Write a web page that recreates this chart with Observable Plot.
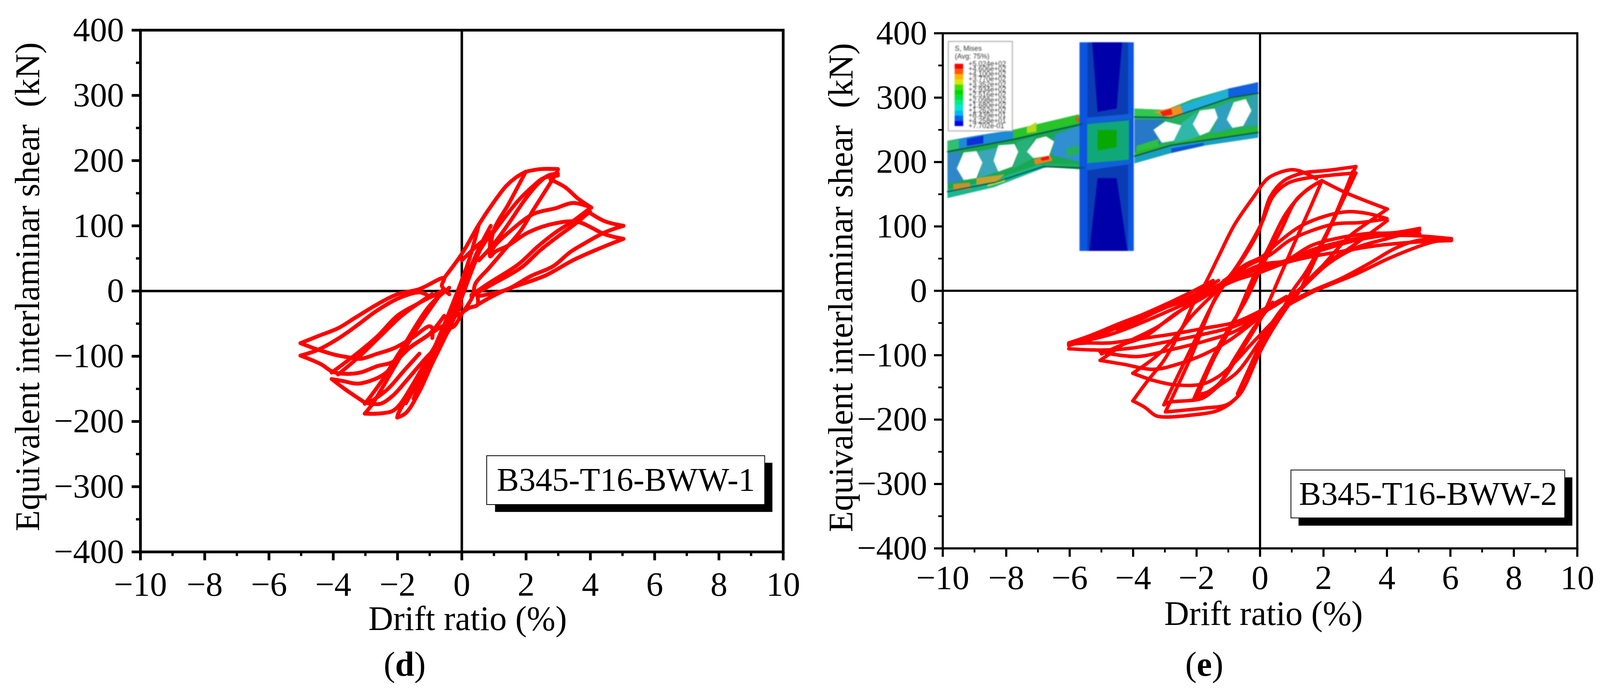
<!DOCTYPE html>
<html><head><meta charset="utf-8">
<script src="https://cdn.jsdelivr.net/npm/d3@7"></script>
<script src="https://cdn.jsdelivr.net/npm/@observablehq/plot@0.6"></script>
<style>
html,body{margin:0;padding:0;background:#fff;width:100%;height:1768px;overflow:hidden}
#page{position:relative;width:4096px;height:1768px;font-family:"Liberation Serif",serif}
#page svg{position:absolute;top:0;overflow:visible}
.cap{position:absolute;font-size:88px;line-height:88px;transform:translateX(-50%);color:#000}
</style></head><body><div id="page"></div>
<script>
const xTicks=[-10,-8,-6,-4,-2,0,2,4,6,8,10];
const xMinor=[-9,-7,-5,-3,-1,1,3,5,7,9];
const yTicks=[-400,-300,-200,-100,0,100,200,300,400];
const yMinor=[-350,-250,-150,-50,50,150,250,350];
const xTitle="Drift ratio (%)";
const yTitle="Equivalent interlaminar shear\u00a0 (kN)";

// Panel (d): B345-T16-BWW-1 hysteresis branches, drift %, shear kN
const d01={x:[-.55,0,.53,.99,1.38,1.68,1.99],y:[20,57,102,136,161,174,183]};
const d02={x:[1.99,2.45,2.99],y:[183,187,187]};
const d03={x:[2.99,2.92,2.22,1.84,1.38,.84,.42,.34,0,-.24,-.39],y:[186,179,124,93,66,35,11,-8,-35,-54,-57]};
const d04={x:[.53,.99,1.45,1.99,2.38,2.68,2.99],y:[47,72,103,142,165,177,180]};
const d05={x:[.99,1.76,2.22,2.53,2.99],y:[90,139,161,173,177]};
const d06={x:[1.99,1.45,.99,.88],y:[183,133,93,53]};
const d07={x:[2.76,3.22,3.61,4.03],y:[171,159,142,128]};
const d08={x:[.3,.84,1.76,2.38,2.92,3.45,3.99],y:[-6,12,41,69,90,107,127]};
const d09={x:[.3,.9,1.85,2.45,3,3.5,3.99],y:[-8,9,36,63,84,102,122]};
const d10={x:[4.03,3.45,2.92,2.22,1.53,.99,.88,.9],y:[128,135,127,118,93,67,54,90]};
const d11={x:[3.92,4.45,5.03],y:[122,107,100]};
const d12={x:[.49,1.38,2.15,2.84,3.38,3.92,4.45,5.03],y:[-8,2,23,38,60,76,90,100]};
const d13={x:[.49,.84,1.38,2.61,3.45,4.22,5.03],y:[-21,-11,2,24,47,64,80]};
const d14={x:[5.03,4.45,3.61,2.92,2.07,1.45,1.03,.92],y:[80,87,106,104,90,70,60,54]};
const d15={x:[-5.02,-4.47,-3.85,-3.32,-2.62,-2.01,-1.32,-.55,-.62,-.39],y:[-80,-69,-57,-41,-20,-5,3,20,8,-5]};
const d16={x:[-5.02,-4.47,-3.85,-3.24,-2.7,-2.01,-1.32,-.93,-.55],y:[-99,-90,-73,-52,-32,-12,-2,-8,2]};
const d17={x:[-5.02,-4.47,-3.93,-3.47,-3.16,-2.62,-2.08,-1.55,-1.01,-.92,-.92],y:[-80,-90,-98,-102,-104,-96,-87,-72,-54,-57,-72]};
const d18={x:[-5.02,-4.39,-4.01,-3.62,-3.16,-2.62,-2.16,-1.62,-.93,-.62],y:[-99,-112,-124,-127,-125,-115,-109,-87,-64,-54]};
const d19={x:[-4.05,-3.7,-3.24,-2.7,-2.35,-2.01,-1.55,-1.01,-.55],y:[-135,-138,-142,-135,-125,-106,-84,-66,-38]};
const d20={x:[-4.05,-3.62,-3.02],y:[-135,-151,-171]};
const d21={x:[-4.05,-3.32,-2.62,-2.01,-1.39,-.93,-.55],y:[-125,-98,-69,-38,-20,-8,2]};
const d22={x:[-3.85,-3.16,-2.47,-1.85,-.93],y:[-128,-99,-66,-37,-5]};
const d23={x:[-3.02,-2.55,-2.16,-1.7,-1.16,-.7,-.32],y:[-171,-173,-161,-136,-105,-81,-54]};
const d24={x:[-2.85,-2.32,-1.78,-1.32],y:[-170,-151,-121,-96]};
const d25={x:[-3.02,-2.62,-2.16,-1.93,-1.55,-1.01,-.55,-.24,-.01],y:[-188,-188,-184,-174,-145,-99,-60,-23,-5]};
const d26={x:[-3.02,-2.78,-2.08,-1.39,-.62],y:[-188,-173,-115,-57,-2]};
const d27={x:[-3.02,-2.55,-1.85,-1.01,-.39],y:[-173,-142,-87,-23,5]};
const d28={x:[-2.01,-1.74,-1.32,-.93,-.62,-.2,-.01],y:[-194,-187,-154,-112,-81,-38,-20]};
const d29={x:[-2.01,-1.97,-1.62,-1.16,-.7,-.24,.22,.53],y:[-194,-187,-157,-121,-69,-14,47,102]};
const d30={x:[-1.93,-1.47,-1.01,-.55,-.08,.38,.92],y:[-176,-142,-102,-54,-2,47,90]};
const d31={x:[-.12,.22,.49,.45],y:[-38,-26,-21,0]};
const d32={x:[0,.53,.99],y:[47,72,90]};
const d33={x:[-1.74,-1.2,-.7,-.3,.1,.5,.9],y:[-172,-125,-80,-35,15,62,100]};
const d34={x:[-1.5,-1,-.5,-.1,.3,.7],y:[-165,-112,-65,-22,30,80]};
const dLoops=[d01,d02,d03,d04,d05,d06,d07,d08,d09,d10,d11,d12,d13,d14,d15,d16,d17,d18,d19,d20,d21,d22,d23,d24,d25,d26,d27,d28,d29,d30,d31,d32,d33,d34];

// Panel (e): B345-T16-BWW-2 hysteresis branches, drift %, shear kN
const e01={x:[-4.01,-3.53,-3.03,-2.43,-2.08,-1.74,-1.31,-.8,-.2,.23,.57,1,1.26,1.78],y:[-171,-139,-108,-55,-18,10,53,103,146,174,183,188,186,174]};
const e02={x:[-3.03,-2.17,-1.4,-.54,.06,.4,.83,1.35,2.12,3.02],y:[-177,-89,-12,53,106,146,166,174,179,183]};
const e03={x:[-2.98,-2.17,-1.31,-.54,-.03,.32,.75,1.35,2.12,3.02],y:[-188,-102,-2,50,94,146,171,183,187,193]};
const e04={x:[3.02,2.55,2.03,1.43,1,.66,.15,-.45,-.71],y:[183,134,81,28,-2,-34,-70,-132,-160]};
const e05={x:[3.02,2.93,2.38,1.78,1.26,.83,.06,-.45,-.63,-1.05,-1.74,-2.98],y:[193,183,118,53,1,-27,-89,-145,-160,-177,-182,-188]};
const e06={x:[2.93,2.29,1.6,1.26,.66,-.03,-.71,-1.31,-1.83,-2.86,-3.03],y:[186,109,41,1,-30,-80,-126,-148,-167,-173,-177]};
const e07={x:[1.95,1.6,1.09,.57,.06,-.54,-1.31,-2],y:[171,131,75,16,-40,-89,-145,-167]};
const e08={x:[-2,-1.48,-.8,-.2,.23,.83,1.43,1.95],y:[-167,-108,-46,22,63,121,155,171]};
const e09={x:[-2.08,-1.31,-.45,.06,.66,1.17,1.86],y:[-167,-86,-15,38,94,143,169]};
const e10={x:[1.95,2.72,4.01],y:[171,152,127]};
const e11={x:[.92,1.43,2.12,2.8,3.4,4.01],y:[-9,10,47,84,106,127]};
const e12={x:[4,3.4,2.8,2.12,1.26,.57,.06,-.45,-.97,-1.4],y:[112,120,123,117,100,75,53,41,22,4]};
const e13={x:[4,3.15,2.38,1.6,.92,.32,-.45,-.97,-1.74,-2.68,-3.63,-4.31,-5],y:[112,106,104,93,78,56,37,16,-9,-36,-71,-83,-98]};
const e14={x:[5.03,4.18,3.4,2.38,1.6,.83,.23,-.8,-1.14],y:[97,90,89,81,70,47,38,22,16]};
const e15={x:[5.03,4.09,2.98,2.12,1.26,.4,-.71,-1.4,-2.17,-3.03,-3.71,-4.49],y:[89,87,78,66,53,41,22,7,-12,-27,-43,-61]};
const e16={x:[6.03,4.69,3.4,2.46,1.6,.92,.06,-.8],y:[81,86,84,75,63,47,41,22]};
const e17={x:[6.03,4.69,3.49,2.55,1.6,.83,-.03,-.8,-1.74,-2.68,-3.71,-4.74,-6.03],y:[78,75,69,61,53,44,28,16,-6,-27,-49,-68,-83]};
const e18={x:[.92,1.78,2.98,4.18,5.38,6.03],y:[-21,1,25,53,75,81]};
const e19={x:[.92,1.69,2.55,3.49,4.26,4.95,6.03],y:[-18,1,19,44,66,78,80]};
const e20={x:[1.26,2.12,2.98,4,5.03],y:[1,41,66,81,94]};
const e21={x:[1.17,2.03,2.72,3.49,4.01],y:[-2,41,63,90,109]};
const e22={x:[-6.03,-5.43,-4.49,-3.71,-3.11,-2.17,-1.48],y:[-81,-71,-52,-37,-24,-2,16]};
const e23={x:[-6.03,-5.34,-4.4,-3.63,-3.03,-2.08,-1.31],y:[-85,-74,-55,-40,-27,-6,16]};
const e24={x:[-6.03,-5.43,-4.74,-3.89,-2.86,-1.74,-.8,.06,.83],y:[-83,-81,-81,-75,-68,-58,-49,-30,-9]};
const e25={x:[-6.03,-5,-4.06,-3.03,-1.83,-.8,-.03,.83],y:[-90,-92,-89,-80,-68,-55,-37,-12]};
const e26={x:[-5.04,-3.89,-2.86,-1.66,-.71,.06],y:[-95,-102,-92,-77,-61,-33]};
const e27={x:[-5.04,-4.31,-3.37,-2.6,-1.74,-.97,-.37,.23,.83],y:[-108,-114,-122,-114,-98,-77,-55,-30,-9]};
const e28={x:[-5.04,-4.74,-4.31,-3.2,-2.17],y:[-108,-98,-83,-55,-18]};
const e29={x:[-4.01,-3.37,-2.68,-1.83,-1.31,-.8,-.28,.15,.75],y:[-128,-139,-146,-145,-133,-111,-83,-61,-30]};
const e30={x:[-4.01,-3.28,-2.77,-2.17,-1.4],y:[-128,-102,-77,-40,-2]};
const e31={x:[-1.83,-1.4,-.8,-.2,.4],y:[-160,-151,-105,-58,-18]};
const e32={x:[-4.01,-3.63,-3.28,-2.94,-2.17,-1.4,-.97,-.63],y:[-171,-181,-194,-196,-193,-187,-176,-160]};
const eLoops=[e01,e02,e03,e04,e05,e06,e07,e08,e09,e10,e11,e12,e13,e14,e15,e16,e17,e18,e19,e20,e21,e22,e23,e24,e25,e26,e27,e28,e29,e30,e31,e32];

// Finite-element inset of panel (e), outlined in chart units
const beamL={c:"#18a850",x:[-9.85,-9.07,-7.78,-6.75,-5.72,-5.55,-5.55,-6.66,-6.84,-8.38,-9.85],y:[233,240,250,262,274,262,188,193,192,161,144]};
const beamR={c:"#20b060",x:[-3.96,-2.98,-2.12,-1,-.06,-.06,-1.69,-2.8,-3.96],y:[283,281,298,314,324,238,226,214,198]};
const webs=[
 {c:"#3aa6b8",x:[-8.94,-8.21,-8.4,-8.25,-8.89,-8.75],y:[216,223,202,185,175,199]},
 {c:"#2f86c8",x:[-9.85,-9.4,-9.56,-9.34,-9.85],y:[214,216,190,172,166]},
 {c:"#28b07a",x:[-7.69,-7.09,-7.35,-7.14,-7.78,-7.62],y:[231,240,216,206,190,216]},
 {c:"#2f8fd0",x:[-6.49,-5.59,-5.59,-6.58,-6.49],y:[242,259,199,211,232]},
 {c:"#22b060",x:[-6.1,-5.7,-5.7,-6.1],y:[222,226,212,208]},
 {c:"#2878c8",x:[-3.96,-2.98,-3.36,-3.1,-3.96],y:[266,266,250,230,211]},
 {c:"#30c040",x:[-3.9,-3.2,-3.2,-3.9],y:[225,236,222,212]},
 {c:"#2fb8a8",x:[-2.46,-1.99,-2.12,-1.9,-2.63,-2.72],y:[261,278,259,241,226,233]},
 {c:"#2f9fc0",x:[-1.43,-.87,-1.05,-.87,-1.52,-1.33],y:[284,295,266,253,245,269]},
 {c:"#2fa0b0",x:[-.4,-.06,-.06,-.53,-.27],y:[300,306,257,256,280]}];
const flanges=[
 {c:"#1c8ad8",x:[-9.85,-9.07,-7.78,-7.78,-9.85],y:[233,240,250,236,217]},
 {c:"#0a30d8",x:[-9.24,-8.72,-8.72,-9.24],y:[236,241,229,225]},
 {c:"#30c070",x:[-9.85,-9.49,-9.49,-9.85],y:[233,235,221,217]},
 {c:"#28c428",x:[-7.78,-6.75,-5.72,-5.57,-7.78],y:[250,262,274,262,236]},
 {c:"#b8d820",x:[-7.35,-7.05,-7.05,-7.35],y:[254,262,247,245]},
 {c:"#f05010",x:[-5.81,-5.59,-5.81],y:[272,262,264]},
 {c:"#18b890",x:[-9.85,-8.29,-6.92,-6.75,-8.38,-9.85],y:[157,174,197,192,161,144]},
 {c:"#c89030",x:[-9.67,-9.15,-9.11,-9.67],y:[166,168,158,156]},
 {c:"#c8a030",x:[-8.94,-8.05,-8.29,-8.94],y:[175,181,170,164]},
 {c:"#d8e030",x:[-8.59,-8.04,-8.04,-8.59],y:[166,174,170,162]},
 {c:"#f08020",x:[-7.13,-6.62,-6.54,-7.09],y:[204,211,202,196]},
 {c:"#f01010",x:[-6.92,-6.66,-6.65,-6.88],y:[206,210,204,202]},
 {c:"#20b060",x:[-6.84,-5.55,-5.55,-6.75],y:[198,196,188,193]},
 {c:"#30c850",x:[-3.96,-2.98,-2.8,-3.96],y:[283,281,269,270]},
 {c:"#f09020",x:[-3.36,-2.8,-2.5,-2.42,-2.85],y:[278,284,288,274,268]},
 {c:"#f02010",x:[-3.15,-2.8,-2.76,-3.06],y:[278,283,274,271]},
 {c:"#20b0d8",x:[-2.5,-1,-1,-2.42],y:[288,314,300,274]},
 {c:"#1060e0",x:[-1,-.06,-.06,-1],y:[314,324,307,300]},
 {c:"#28b828",x:[-3.96,-1.78,-.06,-.06,-2.8,-3.96],y:[216,240,254,246,226,209]},
 {c:"#18a0c0",x:[-3.96,-2.8,-.06,-.06,-1.69,-2.8,-3.96],y:[209,226,246,238,226,214,198]},
 {c:"#1050d8",x:[-2.8,-1.78,-1.78,-2.8],y:[221,230,226,214]}];
const holes=[
 {c:"#ffffff",x:[-9.34,-8.94,-8.75,-8.94,-9.34,-9.56],y:[215,217,199,175,172,190]},
 {c:"#ffffff",x:[-8.25,-7.74,-7.62,-7.81,-8.25,-8.4],y:[226,228,216,193,185,202]},
 {c:"#ffffff",x:[-6.75,-6.49,-6.65,-7.14,-7.35,-7.05],y:[240,232,210,206,216,236]},
 {c:"#ffffff",x:[-2.98,-2.48,-2.72,-3.1,-3.36],y:[263,257,233,230,250]},
 {c:"#ffffff",x:[-1.9,-1.43,-1.33,-1.6,-1.9,-2.12],y:[280,283,269,247,241,259]},
 {c:"#ffffff",x:[-.45,-.27,-.53,-.87,-1.05,-.83],y:[298,280,256,253,266,293]}];
const column=[
 {c:"#0b55e0",x:[-5.69,-3.98,-3.98,-5.69],y:[386,386,62,62]},
 {c:"#0a3cb4",x:[-5.44,-4.16,-4.16,-5.44],y:[386,386,62,62]},
 {c:"#0000aa",x:[-5.29,-4.35,-4.52,-5.12],y:[386,386,283,278]},
 {c:"#0000aa",x:[-5.38,-4.18,-4.52,-5.12],y:[62,62,175,175]}];
const panelZone=[
 {c:"#10a878",x:[-5.45,-4.13,-4.13,-5.45],y:[259,265,203,198]},
 {c:"#08a800",x:[-5.12,-4.52,-4.52,-5.12],y:[250,250,223,218]},
 {c:"#1060d8",x:[-5.45,-4.05,-4.05,-5.45],y:[269,275,266,259]},
 {c:"#1060d8",x:[-5.45,-4.05,-4.05,-5.45],y:[198,204,197,187]}];
const flangeLines=[
 {x:[-9.85,-7.78,-5.59],y:[216,235,259]},
 {x:[-3.96,-2.8,-.92,-.06],y:[270,269,300,307]},
 {x:[-9.85,-8.38,-6.84,-5.55],y:[154,168,193,191]},
 {x:[-3.96,-2.8,-.06],y:[209,226,246]}];
const legendBox={x1:-9.82,x2:-7.8,y1:248,y2:387};
const legendValues=["+5.024e+02","+4.606e+02","+4.100e+02","+3.770e+02","+3.352e+02","+2.934e+02","+2.516e+02","+2.098e+02","+1.680e+02","+1.262e+02","+8.439e+01","+4.258e+01","+7.702e-01"];
const legendColors=["#ff0000","#ff5a00","#ffb400","#d8e800","#3ce000","#00d800","#00e040","#00e890","#00e6d0","#00b8f0","#0060f0","#0000f0"];

const zip=(s,id)=>s.x.map((x,i)=>({x,y:s.y[i],id,c:s.c}));
const rowsOf=a=>a.flatMap((s,i)=>zip(s,i));
const minus=d=>String(d).replace("-","\u2212");
const font="Liberation Serif";

function axes(o){
  return [
    Plot.axisX({ticks:xMinor,tickSize:11,tickFormat:()=>"",label:null,strokeWidth:o.fw-1}),
    Plot.axisY({ticks:yMinor,tickSize:11,tickFormat:()=>"",label:null,strokeWidth:o.fw-1}),
    Plot.axisX({ticks:xTicks,tickSize:22,tickPadding:o.xPad,tickFormat:minus,label:null,fontSize:87,strokeWidth:o.fw}),
    Plot.axisY({ticks:yTicks,tickSize:22,tickPadding:o.yPad,tickFormat:minus,label:null,fontSize:87,strokeWidth:o.fw})
  ];
}
function panel(o){
  const inset=o.inset||[];
  const marks=[
    ...inset,
    Plot.ruleX([0],{strokeWidth:o.zero}),
    Plot.ruleY([0],{strokeWidth:o.zero}),
    Plot.line(rowsOf(o.loops),{x:"x",y:"y",z:"id",stroke:"#ff0000",strokeWidth:o.lw,curve:"catmull-rom",strokeLinejoin:"round",strokeLinecap:"round"}),
    Plot.frame({stroke:"#000",strokeWidth:o.fw}),
    ...axes(o),
    Plot.rect([o.shadow],{x1:"x1",x2:"x2",y1:"y1",y2:"y2",fill:"#000"}),
    Plot.rect([o.box],{x1:"x1",x2:"x2",y1:"y1",y2:"y2",fill:"#fff",stroke:"#000",strokeWidth:2}),
    Plot.text([o.boxText],{x:(o.box.x1+o.box.x2)/2,y:(o.box.y1+o.box.y2)/2,text:d=>d,fontSize:85,fill:"#000"}),
    Plot.text([xTitle],{x:o.xt[0],y:o.xt[1],text:d=>d,fontSize:88,fill:"#000"}),
    Plot.text([yTitle],{x:o.yt[0],y:o.yt[1],text:d=>d,fontSize:88,rotate:-90,fill:"#000"})
  ];
  const svg=Plot.plot({width:o.w,height:1768,marginLeft:o.ml,marginRight:o.mr,marginTop:o.mt,marginBottom:o.mb,
    x:{domain:[-10,10],axis:null},y:{domain:[-400,400],axis:null},color:{type:"identity"},
    style:{fontFamily:font,background:"transparent",overflow:"visible",color:"#000"},marks});
  svg.style.left=o.left+"px";
  [...svg.children].filter(n=>n.tagName.toLowerCase()==="g").slice(0,inset.length).forEach(g=>g.style.filter="blur(1.4px)");
  document.getElementById("page").appendChild(svg);
}

const feMarks=[
  Plot.line(rowsOf([beamL,beamR,...webs,...flanges,...holes,...column,...panelZone]),{x:"x",y:"y",z:"id",fill:"c",stroke:"none"}),
  Plot.line(rowsOf(flangeLines),{x:"x",y:"y",z:"id",stroke:"#0c4a50",strokeWidth:3}),
  Plot.rect([legendBox],{x1:"x1",x2:"x2",y1:"y1",y2:"y2",fill:"#fff",stroke:"#aaa",strokeWidth:2.5}),
  Plot.rect(legendColors,{x1:-9.62,x2:-9.35,y1:(d,i)=>352.3-i*8.06,y2:(d,i)=>352.3-(i+1)*8.06,fill:d=>d}),
  Plot.text(legendValues,{x:-9.19,y:(d,i)=>352.8-i*8.06,text:d=>d,textAnchor:"start",fontSize:18,fontFamily:"Liberation Sans",fill:"#333"}),
  Plot.text(["S, Mises","(Avg: 75%)"],{x:-9.62,y:(d,i)=>376-i*12,text:d=>d,textAnchor:"start",fontSize:18,fontFamily:"Liberation Sans",fill:"#333"})
];

panel({left:0,w:2048,ml:359,mr:43.5,mt:76.7,mb:356.4,zero:6.4,fw:7,lw:10,xPad:28,yPad:20,loops:dLoops,
  box:{x1:.78,x2:9.43,y1:-327.7,y2:-252.8},shadow:{x1:1.04,x2:9.67,y1:-339,y2:-263.6},boxText:"B345-T16-BWW-1",
  xt:[.18,-503],yt:[-13.5,6.6]});
panel({left:2048,w:2048,ml:365,mr:58.6,mt:84.6,mb:365.4,zero:5.5,fw:5.5,lw:9,xPad:20,yPad:18,loops:eLoops,inset:feMarks,
  box:{x1:.98,x2:9.61,y1:-353,y2:-278.6},shadow:{x1:1.22,x2:9.85,y1:-365,y2:-290},boxText:"B345-T16-BWW-2",
  xt:[.11,-502],yt:[-13.2,5]});

const page=document.getElementById("page");
[["d",1036],["e",3083]].forEach(([t,x])=>{
  const c=document.createElement("div");c.className="cap";c.style.left=x+"px";c.style.top="1656px";
  c.innerHTML="(<b>"+t+"</b>)";page.appendChild(c);
});
</script></body></html>
